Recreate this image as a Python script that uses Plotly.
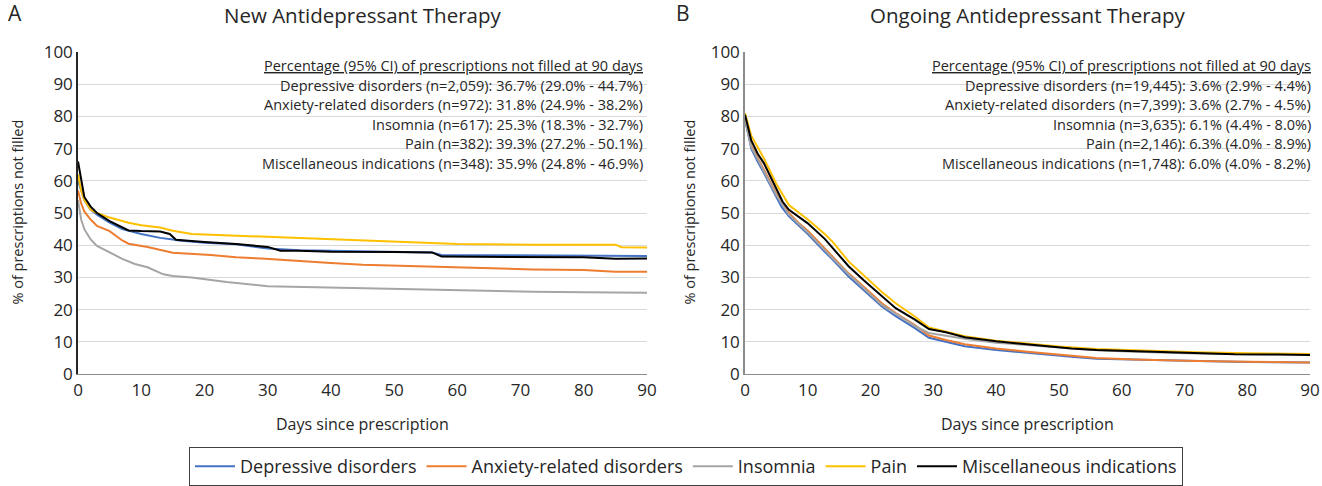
import plotly.graph_objects as go

W, H = 1322, 486

# ---------------- data ----------------
series_names = ["Depressive disorders", "Anxiety-related disorders", "Insomnia", "Pain", "Miscellaneous indications"]
series_colors = ["#4472C4", "#ED7D31", "#A5A5A5", "#FFC000", "#000000"]

# Panel A: New antidepressant therapy
new_dep_days = [0, 0.5, 1, 2, 3, 5, 7, 10, 13, 15, 16, 20, 25, 30, 35, 40, 50, 56, 57.5, 65, 75, 85, 90]
new_dep_vals = [60, 57, 54, 51, 49.5, 47, 45, 43.5, 42.3, 41.8, 41.5, 40.8, 40.3, 39, 38.5, 38.3, 38, 37.8, 37, 36.9, 36.8, 36.8, 36.7]

new_anx_days = [0, 0.5, 1, 2, 3, 5, 7, 8, 11, 13, 15, 21, 25, 29, 35, 40, 45, 56, 65, 72, 80, 85, 90]
new_anx_vals = [57, 53, 50.5, 48, 46, 44.4, 41.5, 40.5, 39.5, 38.5, 37.7, 37, 36.3, 35.9, 35.1, 34.5, 34, 33.4, 33, 32.5, 32.3, 31.8, 31.8]

new_ins_days = [0, 0.5, 1, 2, 3, 5, 7, 9, 11, 13.5, 15, 18, 23.5, 30, 37, 45, 56, 60, 72, 80, 90]
new_ins_vals = [54, 48, 45, 41.8, 39.8, 37.7, 35.8, 34.2, 33.2, 31, 30.5, 30, 28.6, 27.3, 27, 26.6, 26.3, 26, 25.6, 25.4, 25.3]

new_pain_days = [0, 0.5, 1, 2, 3, 5, 8, 10, 13, 15, 18, 25, 30, 36, 40, 45, 55, 60, 72, 85, 86, 90]
new_pain_vals = [62, 57, 54, 51, 50, 48.6, 47, 46.2, 45.5, 44.5, 43.5, 43, 42.6, 42.2, 41.8, 41.5, 40.8, 40.4, 40.2, 40.2, 39.4, 39.3]

new_misc_days = [0, 0.5, 1, 2, 3, 5, 7, 8, 10, 13, 14.5, 15.5, 20, 25, 30, 32, 35, 40, 50, 56, 57.5, 65, 80, 85, 90]
new_misc_vals = [66, 60, 55, 52, 50, 47.5, 45.5, 44.6, 44.4, 44.3, 43.5, 41.7, 41, 40.4, 39.5, 38.3, 38.3, 38, 37.9, 37.8, 36.5, 36.4, 36.3, 35.8, 35.9]

# Panel B: Ongoing antidepressant therapy
ong_dep_days = [0, 1, 2, 3, 5, 5.8, 7, 8.5, 10, 12.7, 14, 16.5, 19, 21.8, 24, 27, 29.3, 32, 35, 40, 45, 48.4, 52, 56, 62, 67, 72, 78, 85, 90]
ong_dep_vals = [79, 70, 66, 62.5, 55, 52, 49, 46.3, 43.5, 38, 35.5, 30.3, 26, 21, 18, 14.4, 11.3, 10, 8.7, 7.5, 6.6, 5.9, 5.4, 4.8, 4.5, 4.3, 4.1, 3.9, 3.7, 3.6]

ong_anx_days = [0, 1, 3, 5, 7, 8.5, 10, 12.7, 14, 16.5, 19, 21.8, 24, 27, 29.3, 32, 35, 40, 45, 50, 56, 62, 67, 72, 80, 90]
ong_anx_vals = [79.5, 71, 63.5, 56, 50, 47, 44.5, 39, 36.5, 31.3, 27, 22, 19, 15.3, 12, 10.6, 9.3, 8, 7, 6, 5, 4.6, 4.3, 4.1, 3.9, 3.6]

ong_ins_days = [0, 1, 3, 5, 7, 10, 12.7, 16.5, 21.8, 27, 29.3, 32, 35, 40, 45, 50, 56, 62, 70, 80, 90]
ong_ins_vals = [79, 70.5, 63, 55.5, 49.5, 44, 38.5, 31, 21.5, 15, 12.8, 12, 11, 9.8, 9, 8.3, 7.4, 7, 6.5, 6.2, 6.1]

ong_pain_days = [0, 1, 3, 5, 7, 10, 12.7, 14, 16.5, 19, 21.8, 24, 27, 29.3, 32, 35, 40, 45, 50, 56, 62, 67, 72, 80, 90]
ong_pain_vals = [81, 74, 67, 59, 52.5, 48, 43.5, 41, 35, 30.5, 25.5, 22, 18, 14.5, 13.2, 11.8, 10.4, 9.4, 8.6, 7.8, 7.4, 7.1, 6.8, 6.5, 6.3]

ong_misc_days = [0, 1, 2, 3, 4, 5, 6, 7, 8.5, 10, 12.7, 14, 16.5, 19, 21.8, 24, 27, 29.3, 32, 35, 40, 45, 48.4, 52, 56, 62, 67, 72, 78, 85, 90]
ong_misc_vals = [80.5, 72.5, 68.5, 65.5, 61.5, 57.5, 53.5, 51, 48.9, 46.8, 42, 39, 33.5, 29, 24.2, 20.5, 17, 14, 13, 11.5, 10.2, 9.2, 8.5, 8, 7.5, 7.2, 6.9, 6.5, 6.2, 6.1, 6.0]

new_days = [new_dep_days, new_anx_days, new_ins_days, new_pain_days, new_misc_days]
new_vals = [new_dep_vals, new_anx_vals, new_ins_vals, new_pain_vals, new_misc_vals]
ong_days = [ong_dep_days, ong_anx_days, ong_ins_days, ong_pain_days, ong_misc_days]
ong_vals = [ong_dep_vals, ong_anx_vals, ong_ins_vals, ong_pain_vals, ong_misc_vals]

panel_titles = ["New Antidepressant Therapy", "Ongoing Antidepressant Therapy"]
panel_letters = ["A", "B"]
note_header = "Percentage (95% CI) of prescriptions not filled at 90 days"
new_notes = [
    "Depressive disorders (n=2,059): 36.7% (29.0% - 44.7%)",
    "Anxiety-related disorders (n=972): 31.8% (24.9% - 38.2%)",
    "Insomnia (n=617): 25.3% (18.3% - 32.7%)",
    "Pain (n=382): 39.3% (27.2% - 50.1%)",
    "Miscellaneous indications (n=348): 35.9% (24.8% - 46.9%)",
]
ong_notes = [
    "Depressive disorders (n=19,445): 3.6% (2.9% - 4.4%)",
    "Anxiety-related disorders (n=7,399): 3.6% (2.7% - 4.5%)",
    "Insomnia (n=3,635): 6.1% (4.4% - 8.0%)",
    "Pain (n=2,146): 6.3% (4.0% - 8.9%)",
    "Miscellaneous indications (n=1,748): 6.0% (4.0% - 8.2%)",
]
x_title = "Days since prescription"
y_title = "% of prescriptions not filled"

# ---------------- figure ----------------
FONT = "Open Sans"
TXT = "#262626"

def px(x):
    return x / W

def py(y):
    return 1 - y / H

fig = go.Figure()

for i in range(5):
    fig.add_trace(go.Scatter(x=new_days[i], y=new_vals[i], mode="lines", name=series_names[i],
                             line=dict(color=series_colors[i], width=2), xaxis="x", yaxis="y",
                             legendgroup=series_names[i], showlegend=True))
for i in range(5):
    fig.add_trace(go.Scatter(x=ong_days[i], y=ong_vals[i], mode="lines", name=series_names[i],
                             line=dict(color=series_colors[i], width=2), xaxis="x2", yaxis="y2",
                             legendgroup=series_names[i], showlegend=False))

ydom = [py(375), py(52)]
common_x = dict(range=[0, 90], tickvals=list(range(0, 91, 10)), showgrid=False, zeroline=False,
                showline=True, linecolor="#8c8c8c", linewidth=1, ticks="", automargin=False,
                tickfont=dict(family=FONT, size=17, color=TXT), fixedrange=True)
common_y = dict(range=[0, 100], tickvals=list(range(0, 101, 10)), showgrid=True, gridcolor="#d9d9d9",
                gridwidth=1, zeroline=False, showline=True, linewidth=1.5, ticks="", automargin=False,
                tickfont=dict(family=FONT, size=17, color=TXT), domain=ydom, fixedrange=True)

fig.update_layout(
    template="none",
    width=W, height=H,
    margin=dict(l=0, r=0, t=0, b=0, pad=0),
    paper_bgcolor="white", plot_bgcolor="white",
    font=dict(family=FONT, color=TXT),
    xaxis=dict(domain=[px(78), px(647)], anchor="y", **common_x),
    yaxis=dict(anchor="x", linecolor="#262626", **common_y),
    xaxis2=dict(domain=[px(745), px(1310)], anchor="y2", **common_x),
    yaxis2=dict(anchor="x2", linecolor="#8c8c8c", **common_y),
    showlegend=True,
    legend=dict(orientation="h", x=px(686), xanchor="center", y=py(467), yanchor="middle",
                bordercolor="#404040", borderwidth=1, bgcolor="white",
                font=dict(family=FONT, size=18, color=TXT), itemwidth=40,
                traceorder="normal"),
)

ann = []
panels = [
    dict(left=78, right=647, notes=new_notes, title=panel_titles[0], letter=panel_letters[0],
         letter_x=15, ytitle_x=18, note_right=645),
    dict(left=745, right=1310, notes=ong_notes, title=panel_titles[1], letter=panel_letters[1],
         letter_x=683, ytitle_x=690, note_right=1313),
]
for p in panels:
    cx = (p["left"] + p["right"]) / 2
    ann.append(dict(text=p["title"], x=px(cx), y=py(15), xref="paper", yref="paper",
                    xanchor="center", yanchor="middle", showarrow=False,
                    font=dict(family=FONT, size=20.5, color=TXT)))
    ann.append(dict(text=p["letter"], x=px(p["letter_x"]), y=py(13), xref="paper", yref="paper",
                    xanchor="center", yanchor="middle", showarrow=False,
                    font=dict(family=FONT, size=21, color=TXT)))
    ann.append(dict(text=x_title, x=px(cx), y=py(425), xref="paper", yref="paper",
                    xanchor="center", yanchor="middle", showarrow=False,
                    font=dict(family=FONT, size=16, color=TXT)))
    ann.append(dict(text=y_title, x=px(p["ytitle_x"]), y=py(213), xref="paper", yref="paper",
                    xanchor="center", yanchor="middle", showarrow=False, textangle=-90,
                    font=dict(family=FONT, size=14.5, color=TXT)))
    lines = ["<u>" + note_header + "</u>"] + p["notes"]
    for k, t in enumerate(lines):
        ann.append(dict(text=t, x=px(p["note_right"]), y=py(66 + 19.5 * k), xref="paper", yref="paper",
                        xanchor="right", yanchor="middle", showarrow=False,
                        font=dict(family=FONT, size=14.5, color=TXT)))

fig.update_layout(annotations=ann)
fig.write_html("out.html", config={"displayModeBar": False},
               post_script="document.body.style.margin='0';document.body.style.overflow='hidden';")
